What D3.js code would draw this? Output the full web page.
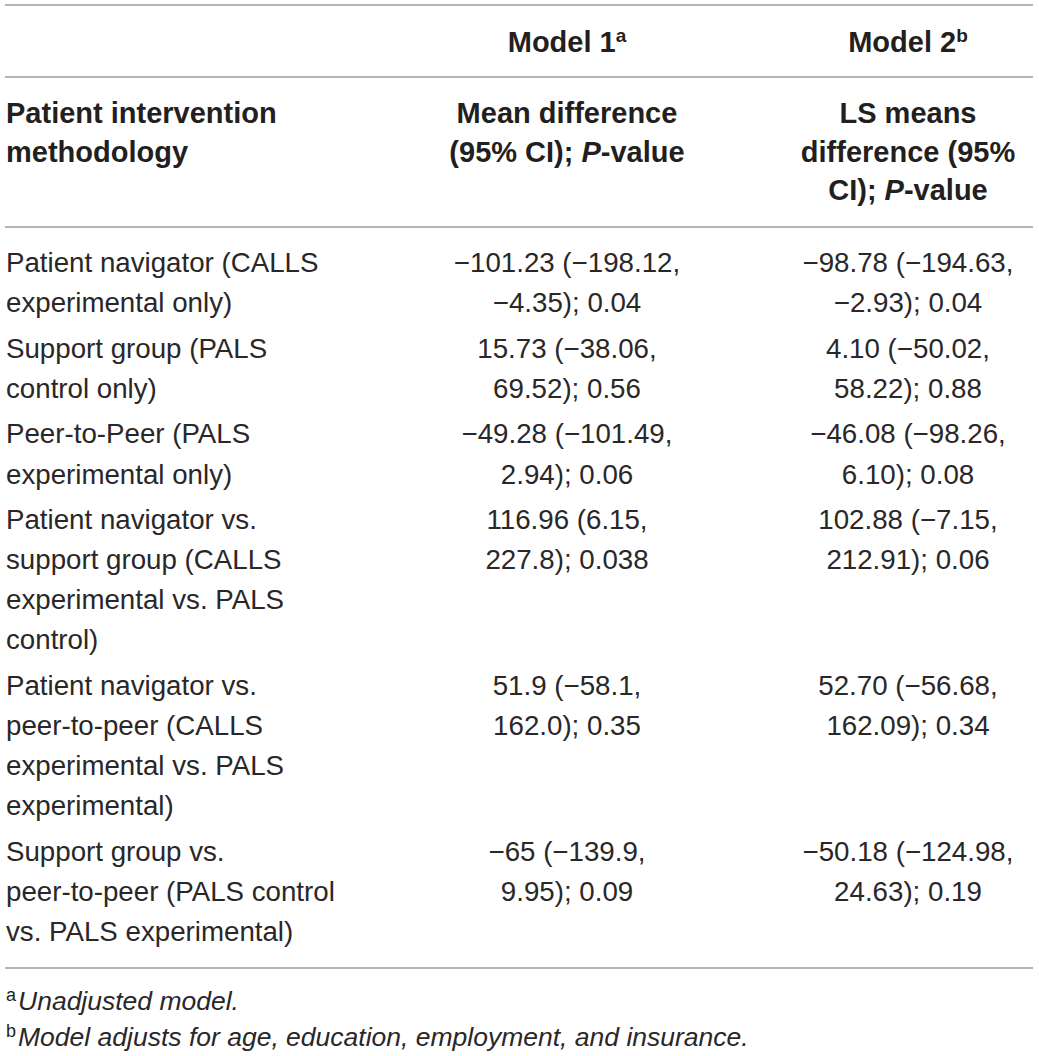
<!DOCTYPE html>
<html>
<head>
<meta charset="utf-8">
<script src="https://cdn.jsdelivr.net/npm/d3@7"></script>
<style>
  body { margin: 0; background: #fff; }
  text { font-family: "Liberation Sans", Arial, Helvetica, sans-serif; fill: #231f20; }
</style>
</head>
<body>
<div id="chart"></div>
<script>
// table content, wrapped as in the source picture
var models = ["Model 1", "Model 2"];
var modelNotes = ["a", "b"];

var headerMethod = ["Patient intervention", "methodology"];
var headerModel1 = [["Mean difference"], ["(95% CI); ", "P", "-value"]];
var headerModel2 = [["LS means"], ["difference (95%"], ["CI); ", "P", "-value"]];

var methodology = [
    ["Patient navigator (CALLS", "experimental only)"],
    ["Support group (PALS", "control only)"],
    ["Peer-to-Peer (PALS", "experimental only)"],
    ["Patient navigator vs.", "support group (CALLS", "experimental vs. PALS", "control)"],
    ["Patient navigator vs.", "peer-to-peer (CALLS", "experimental vs. PALS", "experimental)"],
    ["Support group vs.", "peer-to-peer (PALS control", "vs. PALS experimental)"]
];

var model1 = [
    ["\u2212101.23 (\u2212198.12,", "\u22124.35); 0.04"],
    ["15.73 (\u221238.06,", "69.52); 0.56"],
    ["\u221249.28 (\u2212101.49,", "2.94); 0.06"],
    ["116.96 (6.15,", "227.8); 0.038"],
    ["51.9 (\u221258.1,", "162.0); 0.35"],
    ["\u221265 (\u2212139.9,", "9.95); 0.09"]
];

var model2 = [
    ["\u221298.78 (\u2212194.63,", "\u22122.93); 0.04"],
    ["4.10 (\u221250.02,", "58.22); 0.88"],
    ["\u221246.08 (\u221298.26,", "6.10); 0.08"],
    ["102.88 (\u22127.15,", "212.91); 0.06"],
    ["52.70 (\u221256.68,", "162.09); 0.34"],
    ["\u221250.18 (\u2212124.98,", "24.63); 0.19"]
];

var footnotes = [
    ["a", "Unadjusted model."],
    ["b", "Model adjusts for age, education, employment, and insurance."]
];

var W = 1039, H = 1056;
var fs = 27.7, fsBold = 29;
var base = 10;          // centre -> baseline
var rowGap = 0.14;      // extra space between rows, in line units

var svg = d3.select("#chart").append("svg")
    .attr("width", W).attr("height", H);

// columns
var colX = d3.scaleOrdinal()
    .domain(["method", "m1", "m2"])
    .range([6, 567, 908]);
var colAnchor = { method: "start", m1: "middle", m2: "middle" };

// rules
var ruleY = [5, 77, 227, 968];
svg.selectAll("line.rule").data(ruleY).enter().append("line")
    .attr("class", "rule")
    .attr("x1", 5).attr("x2", 1033)
    .attr("y1", function (d) { return d; })
    .attr("y2", function (d) { return d; })
    .attr("stroke", "#9b9b9b").attr("stroke-width", 1.6);

// model titles
var modelRow = svg.selectAll("text.model").data(models).enter().append("text")
    .attr("class", "model")
    .attr("x", function (d, i) { return colX(i == 0 ? "m1" : "m2"); })
    .attr("y", 42 + base)
    .attr("text-anchor", "middle")
    .attr("font-size", fsBold).attr("font-weight", "bold");
modelRow.append("tspan").text(function (d) { return d; });
modelRow.append("tspan")
    .attr("dy", -10).attr("font-size", 19)
    .text(function (d, i) { return modelNotes[i]; });

// header row
var headY = d3.scaleLinear().domain([0, 2]).range([113, 190]);

function headerCell(lines, key) {
    lines.forEach(function (parts, j) {
        var t = svg.append("text")
            .attr("x", colX(key))
            .attr("y", headY(j) + base)
            .attr("text-anchor", colAnchor[key])
            .attr("font-size", fsBold).attr("font-weight", "bold");
        (Array.isArray(parts) ? parts : [parts]).forEach(function (p) {
            t.append("tspan").attr("font-style", p == "P" ? "italic" : null).text(p);
        });
    });
}
headerCell(headerMethod, "method");
headerCell(headerModel1, "m1");
headerCell(headerModel2, "m2");

// body rows
var starts = [];
var acc = 0;
methodology.forEach(function (m, i) {
    starts.push(acc + i * rowGap);
    acc += m.length;
});
var totalUnits = acc - 1 + (methodology.length - 1) * rowGap;
var bodyY = d3.scaleLinear().domain([0, totalUnits]).range([262, 931]);

var rows = methodology.map(function (m, i) {
    return { method: m, m1: model1[i], m2: model2[i], start: starts[i] };
});

var row = svg.selectAll("g.row").data(rows).enter().append("g").attr("class", "row");

["method", "m1", "m2"].forEach(function (key) {
    row.each(function (d) {
        d3.select(this).selectAll("text." + key).data(d[key]).enter().append("text")
            .attr("class", key)
            .attr("x", colX(key))
            .attr("y", function (s, j) { return bodyY(d.start + j) + base; })
            .attr("text-anchor", colAnchor[key])
            .attr("font-size", fs)
            .style("fill", "#2a2728")
            .text(function (s) { return s; });
    });
});

// footnotes
var noteY = d3.scaleLinear().domain([0, 1]).range([1000, 1036]);
var note = svg.selectAll("text.note").data(footnotes).enter().append("text")
    .attr("class", "note")
    .attr("x", 6)
    .attr("y", function (d, i) { return noteY(i) + base; })
    .attr("font-size", 26.5);
note.append("tspan")
    .attr("dy", -9).attr("font-size", 18)
    .text(function (d) { return d[0]; });
note.append("tspan")
    .attr("dy", 9).attr("dx", 2).attr("font-style", "italic")
    .style("fill", "#2a2728")
    .text(function (d) { return d[1]; });
</script>
</body>
</html>
